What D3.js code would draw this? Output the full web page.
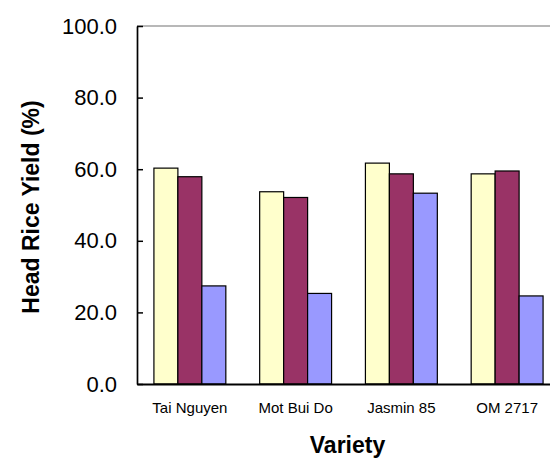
<!DOCTYPE html>
<html>
<head>
<meta charset="utf-8">
<script src="https://cdn.jsdelivr.net/npm/d3@7"></script>
<style>
  html, body { margin: 0; padding: 0; background: #fff; }
  svg { display: block; }
  text { font-family: Arial, "Liberation Sans", sans-serif; fill: #000; }
</style>
</head>
<body>
<svg id="chart" width="550" height="458"></svg>
<script>
const categories = ["Tai Nguyen", "Mot Bui Do", "Jasmin 85", "OM 2717"];
const seriesNames = ["Series 1", "Series 2", "Series 3"];
const series1 = [60.3, 53.7, 61.7, 58.7];
const series2 = [57.9, 52.1, 58.7, 59.5];
const series3 = [27.4, 25.3, 53.3, 24.6];
const seriesColors = ["#FFFFCC", "#993366", "#9999FF"];
const yTicks = [0, 20, 40, 60, 80, 100];
const yTitle = "Head Rice Yield (%)";
const xTitle = "Variety";

const allSeries = [series1, series2, series3];
const svg = d3.select("#chart");

const plot = { left: 137, right: 560, top: 26, bottom: 384 };

const x0 = d3.scaleBand().domain(categories)
  .range([plot.left, plot.right]).paddingInner(0.32).paddingOuter(0.16);
const x1 = d3.scaleBand().domain(seriesNames).range([0, x0.bandwidth()]).padding(0);
const y = d3.scaleLinear().domain([0, 100]).range([plot.bottom, plot.top]);

// plot area border (gray top / right)
svg.append("line").attr("x1", plot.left).attr("x2", plot.right)
  .attr("y1", plot.top).attr("y2", plot.top)
  .attr("stroke", "#a0a0a0").attr("stroke-width", 1.6);
svg.append("line").attr("x1", plot.right).attr("x2", plot.right)
  .attr("y1", plot.top).attr("y2", plot.bottom)
  .attr("stroke", "#a0a0a0").attr("stroke-width", 1.6);

// bars
const groups = svg.append("g").selectAll("g")
  .data(categories).join("g")
  .attr("transform", d => `translate(${x0(d)},0)`);
groups.selectAll("rect")
  .data((d, i) => seriesNames.map((s, j) => ({ s, v: allSeries[j][i], c: seriesColors[j] })))
  .join("rect")
  .attr("x", d => x1(d.s))
  .attr("y", d => y(d.v))
  .attr("width", x1.bandwidth())
  .attr("height", d => y(0) - y(d.v))
  .attr("fill", d => d.c)
  .attr("stroke", "#000")
  .attr("stroke-width", 1.2);

// y axis
const yAxis = d3.axisLeft(y).tickValues(yTicks).tickFormat(d3.format(".1f"))
  .tickSizeInner(-6).tickSizeOuter(0).tickPadding(20);
const ya = svg.append("g").attr("transform", `translate(${plot.left},0)`).call(yAxis);
ya.select(".domain").attr("stroke", "#000").attr("stroke-width", 1.7);
ya.selectAll(".tick line").attr("stroke", "#000").attr("stroke-width", 1.5);
ya.selectAll(".tick text").attr("font-size", "22px").attr("font-family", "Arial, 'Liberation Sans', sans-serif")
  .attr("fill", "#000");

// x axis
const xAxis = d3.axisBottom(x0).tickSize(0).tickSizeOuter(0).tickPadding(18);
const xa = svg.append("g").attr("transform", `translate(0,${plot.bottom})`).call(xAxis);
xa.select(".domain").attr("stroke", "#000").attr("stroke-width", 1.8);
xa.selectAll(".tick text").attr("font-size", "15px").attr("font-family", "Arial, 'Liberation Sans', sans-serif")
  .attr("fill", "#000");

// titles
svg.append("text")
  .attr("transform", `translate(39,${(plot.top + plot.bottom) / 2 + 2}) rotate(-90)`)
  .attr("text-anchor", "middle")
  .attr("font-size", "23px").attr("font-weight", "bold")
  .text(yTitle);
svg.append("text")
  .attr("x", (plot.left + plot.right) / 2 - 1).attr("y", 453)
  .attr("text-anchor", "middle")
  .attr("font-size", "23px").attr("font-weight", "bold")
  .text(xTitle);
</script>
</body>
</html>
